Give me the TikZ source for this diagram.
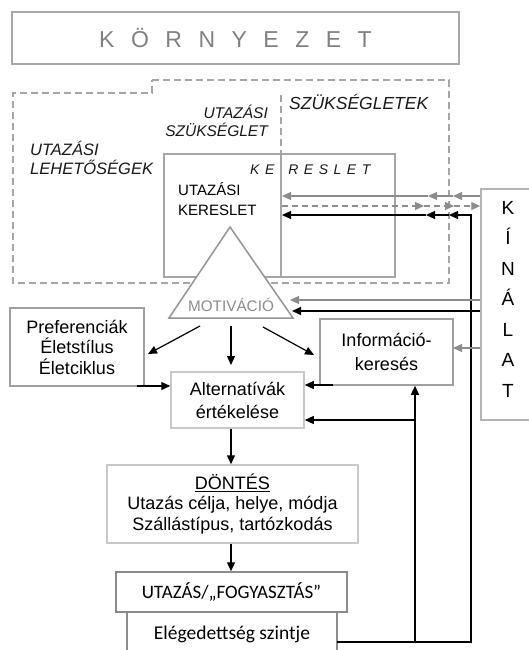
\documentclass[tikz,border=0pt]{standalone}
\usepackage{fontspec}
\setmainfont{Liberation Sans}
\newfontfamily\calib{Carlito}
\usetikzlibrary{arrows.meta}
\definecolor{korngray}{HTML}{A8A8A8}
\definecolor{kortext}{HTML}{808080}
\definecolor{dashgray}{HTML}{A6A6A6}
\definecolor{kergray}{HTML}{A6A6A6}
\definecolor{prefgray}{HTML}{A0A0A0}
\definecolor{lightgray}{HTML}{C8C8C8}
\definecolor{darkgray}{HTML}{8C8C8C}
\definecolor{kingray}{HTML}{B4B4B4}
\definecolor{trigray}{HTML}{959595}
\definecolor{arrgray}{HTML}{8C8C8C}
\begin{document}
\begin{tikzpicture}[x=1pt,y=-1pt,
  bx/.style={draw=#1, line width=1.5pt, inner sep=0pt, align=center, text=black},
  ar/.style={-{Triangle[length=9pt,width=8pt]}, line width=1.2pt, draw=black},
  gar/.style={ar, draw=arrgray},
  dsh/.style={draw=dashgray, line width=1.5pt, dash pattern=on 7pt off 4pt},
  ital/.style={text=black!90, inner sep=0pt}
]
\useasboundingbox (0,0) rectangle (529,650);

% dashed outlines
\draw[dsh] (152,80) -- (449,80) -- (449,283) -- (13,283) -- (13,93) -- (152,93) -- cycle;
\draw[dsh] (281,95) -- (281,154);

% KORNYEZET
\node[bx=korngray, minimum width=447pt, minimum height=52pt, text=kortext,
  font=\fontsize{23}{27}\selectfont] (korny) at (235.5,38)
  {K\hspace{16.5pt}Ö\hspace{16.5pt}R\hspace{16.5pt}N\hspace{16.5pt}Y\hspace{16.5pt}E\hspace{16.5pt}Z\hspace{16.5pt}E\hspace{16.5pt}T};

% KERESLET boxes
\node[bx=kergray, minimum width=117pt, minimum height=123pt] (kerL) at (222.5,215.5) {};
\node[bx=kergray, minimum width=114pt, minimum height=123pt] (kerR) at (338,215.5) {};

% triangle
\coordinate (tA) at (230,227);
\coordinate (tL) at (169,318);
\coordinate (tR) at (293,318);
\draw[draw=trigray, line width=1.5pt, fill=white, line join=miter] (tA) -- (tR) -- (tL) -- cycle;
\node[text=arrgray, font=\fontsize{15.3}{17}\selectfont, inner sep=0pt] (mot) at (231,305) {MOTIVÁCIÓ};

% KINALAT
\node[bx=kingray, minimum width=60pt, minimum height=231pt] (kin) at (511,304.5) {};
\node[font=\fontsize{19}{30.5}\selectfont, align=center, inner sep=0pt] (kint) at (508,299)
  {K\\Í\\N\\Á\\L\\A\\T};

% other boxes
\node[bx=prefgray, minimum width=134pt, minimum height=78pt, font=\fontsize{18}{20.5}\selectfont] (pref) at (77,347)
  {Preferenciák\\Életstílus\\Életciklus};
\node[bx=prefgray, minimum width=133pt, minimum height=66pt, font=\fontsize{18}{24}\selectfont] (info) at (386.5,352)
  {Információ-\\keresés};
\node[bx=lightgray, minimum width=133pt, minimum height=56pt, font=\fontsize{18}{23}\selectfont] (alt) at (237.5,400)
  {Alternatívák\\értékelése};
\node[bx=lightgray, minimum width=251pt, minimum height=78pt, font=\fontsize{18}{20.5}\selectfont] (dont) at (232.5,504)
  {\underline{DÖNTÉS}\\Utazás célja, helye, módja\\Szállástípus, tartózkodás};
\node[bx=darkgray, minimum width=231pt, minimum height=40pt, font=\calib\fontsize{19}{22}\selectfont] (utaz) at (231.5,592)
  {UTAZÁS/„FOGYASZTÁS”};
\node[bx=darkgray, minimum width=210pt, minimum height=44pt, font=\calib\fontsize{19.5}{22}\selectfont] (eleg) at (232,634)
  {Elégedettség szintje};

% labels
\node[ital, anchor=west, font=\itshape\fontsize{17.5}{21}\selectfont] (szuk) at (289,102) {SZÜKSÉGLETEK};
\node[ital, anchor=east, align=right, font=\itshape\fontsize{15.5}{18.5}\selectfont] (uszuk) at (268,121) {UTAZÁSI\\SZÜKSÉGLET};
\node[ital, anchor=west, align=left, font=\itshape\fontsize{16.5}{19}\selectfont] (uleh) at (30,157.5) {UTAZÁSI\\LEHETŐSÉGEK};
\node[ital, anchor=west, font=\itshape\fontsize{14}{17}\selectfont] (kerlab) at (250,170)
  {K\hspace{5.5pt}E\hspace{14pt}R\hspace{5.5pt}E\hspace{5.5pt}S\hspace{5.5pt}L\hspace{5.5pt}E\hspace{5.5pt}T};
\node[anchor=west, align=left, inner sep=0pt, font=\fontsize{15}{20}\selectfont] (uker) at (178,199) {UTAZÁSI\\KERESLET};

% arrows between KERESLET and KINALAT
\coordinate (gs1) at (453,196);
\coordinate (gs2) at (428,196);
\coordinate (gs3) at (282,196);
\draw[gar] (kin.west |- gs1) -- (gs1);
\draw[gar] (gs1) -- (gs2);
\draw[gar] (gs2) -- (gs3);

\coordinate (gd0) at (282,206);
\coordinate (gd1) at (424,206);
\coordinate (gd2) at (454,206);
\draw[gar, dash pattern=on 6pt off 4pt] (gd0) -- (gd1);
\draw[gar, dash pattern=on 6pt off 4pt] (gd1) -- (gd2);
\draw[gar, dash pattern=on 6pt off 4pt] (gd2) -- (kin.west |- gd2);

\coordinate (e0) at (337,642);
\coordinate (b0) at (471,642);
\coordinate (b1) at (471,215);
\coordinate (b2) at (449,215);
\coordinate (b3) at (426,215);
\coordinate (b4) at (282,215);
\draw[ar] (e0) -- (b0) -- (b1) -- (b2);
\draw[ar] (b2) -- (b3);
\draw[ar] (b3) -- (b4);

% feedback to Informacio and Alternativak
\coordinate (v0) at (415,642);
\coordinate (v1) at (415,420);
\draw[ar] (v0) -- (v0 |- info.south);
\draw[ar] (v1) -- (v1 -| alt.east);

% KINALAT to MOTIVACIO and Informacio
\coordinate (mg) at (290,300);
\coordinate (mb) at (292,311);
\coordinate (ig) at (453,348);
\draw[gar] (kin.west |- mg) -- (mg);
\draw[ar] (kin.west |- mb) -- (mb);
\draw[gar] (kin.west |- ig) -- (ig);

% from MOTIVACIO
\coordinate (m1s) at (200,326);
\coordinate (m1e) at (148,354);
\coordinate (m2s) at (231,326);
\coordinate (m2e) at (231,365);
\coordinate (m3s) at (263,327);
\coordinate (m3e) at (314,355);
\draw[ar] (m1s) -- (m1e);
\draw[ar] (m2s) -- (m2e);
\draw[ar] (m3s) -- (m3e);

% into Alternativak
\coordinate (pa) at (137,386);
\coordinate (ia) at (333,385);
\draw[ar] (pa) -- (pa -| alt.west);
\draw[ar] (ia) -- (ia -| alt.east);

% down chain
\coordinate (ad) at (231,0);
\draw[ar] (ad |- alt.south) -- (ad |- dont.north);
\draw[ar] (ad |- dont.south) -- (ad |- utaz.north);
\end{tikzpicture}
\end{document}
